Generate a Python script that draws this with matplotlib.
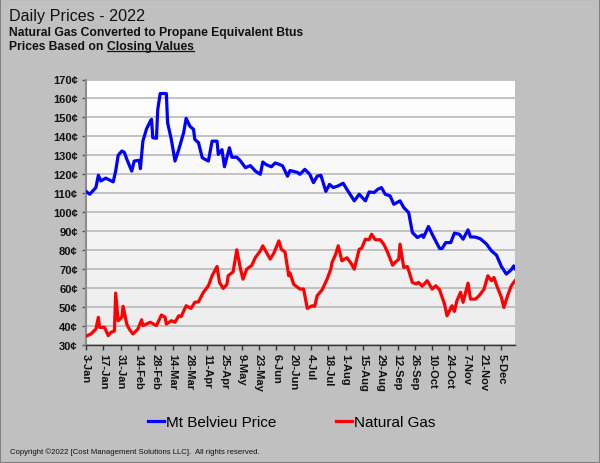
import matplotlib
matplotlib.use("Agg")
import matplotlib.pyplot as plt
from matplotlib.lines import Line2D
from matplotlib.patches import Rectangle
from matplotlib.colors import LinearSegmentedColormap
import numpy as np
import pandas as pd

# ---------------- data ----------------
belvieu_dates = [
    "2022-01-03", "2022-01-06", "2022-01-11", "2022-01-13", "2022-01-15", "2022-01-19",
    "2022-01-22", "2022-01-25", "2022-01-27", "2022-01-29", "2022-02-01", "2022-02-03",
    "2022-02-05", "2022-02-09", "2022-02-11", "2022-02-15", "2022-02-16", "2022-02-18",
    "2022-02-21", "2022-02-24", "2022-02-25", "2022-02-26", "2022-03-01", "2022-03-02",
    "2022-03-04", "2022-03-09", "2022-03-10", "2022-03-13", "2022-03-16", "2022-03-19",
    "2022-03-23", "2022-03-25", "2022-03-28", "2022-03-31", "2022-04-01", "2022-04-04",
    "2022-04-07", "2022-04-09", "2022-04-12", "2022-04-15", "2022-04-19", "2022-04-20",
    "2022-04-23", "2022-04-25", "2022-04-29", "2022-05-01", "2022-05-05", "2022-05-08",
    "2022-05-12", "2022-05-16", "2022-05-20", "2022-05-24", "2022-05-26", "2022-05-29",
    "2022-06-02", "2022-06-05", "2022-06-08", "2022-06-11", "2022-06-15", "2022-06-17",
    "2022-06-23", "2022-06-25", "2022-06-29", "2022-07-03", "2022-07-06", "2022-07-09",
    "2022-07-12", "2022-07-16", "2022-07-19", "2022-07-22", "2022-07-26", "2022-07-30",
    "2022-08-02", "2022-08-08", "2022-08-12", "2022-08-17", "2022-08-20", "2022-08-24",
    "2022-08-27", "2022-08-30", "2022-09-02", "2022-09-06", "2022-09-09", "2022-09-14",
    "2022-09-17", "2022-09-21", "2022-09-24", "2022-09-28", "2022-10-02", "2022-10-03",
    "2022-10-07", "2022-10-10", "2022-10-16", "2022-10-18", "2022-10-21", "2022-10-25",
    "2022-10-28", "2022-11-01", "2022-11-04", "2022-11-08", "2022-11-10", "2022-11-14",
    "2022-11-18", "2022-11-23", "2022-11-27", "2022-12-01", "2022-12-05", "2022-12-09",
    "2022-12-13", "2022-12-15", "2022-12-16",
]
belvieu_values = [
    111, 109.5, 113, 119.5, 116.5, 118,
    117, 116, 121.7, 130, 132.3, 131.6,
    128, 121.7, 127, 127.4, 123, 137.5,
    144, 148, 149, 139.3, 139, 154,
    162.6, 162.6, 147.2, 138.4, 127, 133,
    142, 149.5, 145.4, 143.7, 138.4, 136.7,
    128.8, 128, 127, 137.5, 137.5, 130.5,
    133, 124, 134, 129, 129, 127,
    123.5, 124.6, 121.7, 120, 126.5, 125,
    124, 126, 125.3, 124.5, 119, 122,
    121, 120, 122.6, 120, 115.6, 119,
    119.5, 111, 114.7, 113, 113.9, 115.3,
    112.1, 106, 109.5, 106, 110.7, 110.4,
    112.1, 113, 109.5, 108.6, 104.2, 106,
    102.5, 99.8, 89.3, 86.7, 88, 86.7,
    92.5, 88.4, 80.9, 80.9, 84, 84,
    89, 88.4, 85.8, 90.7, 87, 86.9,
    86, 83.2, 79.6, 77.4, 71.4, 67.4,
    69.7, 71.7, 70.3,
]

gas_dates = [
    "2022-01-03", "2022-01-07", "2022-01-11", "2022-01-13", "2022-01-14", "2022-01-18",
    "2022-01-21", "2022-01-23", "2022-01-26", "2022-01-27", "2022-01-29", "2022-02-01",
    "2022-02-02", "2022-02-05", "2022-02-07", "2022-02-10", "2022-02-14", "2022-02-17",
    "2022-02-18", "2022-02-24", "2022-03-01", "2022-03-05", "2022-03-08", "2022-03-09",
    "2022-03-13", "2022-03-16", "2022-03-19", "2022-03-21", "2022-03-25", "2022-03-29",
    "2022-04-01", "2022-04-04", "2022-04-08", "2022-04-12", "2022-04-15", "2022-04-19",
    "2022-04-21", "2022-04-24", "2022-04-27", "2022-04-28", "2022-05-02", "2022-05-05",
    "2022-05-08", "2022-05-10", "2022-05-13", "2022-05-17", "2022-05-20", "2022-05-24",
    "2022-05-26", "2022-05-29", "2022-06-01", "2022-06-04", "2022-06-08", "2022-06-10",
    "2022-06-13", "2022-06-16", "2022-06-17", "2022-06-20", "2022-06-25", "2022-06-28",
    "2022-07-01", "2022-07-05", "2022-07-07", "2022-07-09", "2022-07-13", "2022-07-17",
    "2022-07-20", "2022-07-21", "2022-07-24", "2022-07-26", "2022-07-29", "2022-08-02",
    "2022-08-05", "2022-08-08", "2022-08-12", "2022-08-14", "2022-08-17", "2022-08-20",
    "2022-08-22", "2022-08-25", "2022-08-29", "2022-09-01", "2022-09-04", "2022-09-08",
    "2022-09-10", "2022-09-13", "2022-09-14", "2022-09-17", "2022-09-20", "2022-09-24",
    "2022-09-27", "2022-09-29", "2022-10-02", "2022-10-06", "2022-10-10", "2022-10-13",
    "2022-10-16", "2022-10-20", "2022-10-22", "2022-10-26", "2022-10-28", "2022-10-30",
    "2022-11-02", "2022-11-04", "2022-11-08", "2022-11-10", "2022-11-14", "2022-11-17",
    "2022-11-21", "2022-11-24", "2022-11-27", "2022-11-29", "2022-12-01", "2022-12-05",
    "2022-12-07", "2022-12-10", "2022-12-13", "2022-12-15", "2022-12-16",
]
gas_values = [
    34.6, 35.8, 38.4, 44.6, 39.3, 39.3,
    34.9, 36.6, 37.4, 57.4, 42.8, 44.6,
    50.4, 41, 38.4, 35.8, 38.4, 43.3,
    40.2, 42, 40.2, 45.8, 44.6, 41,
    42.8, 42, 45.4, 45, 50.7, 49.3,
    52.5, 52.8, 57.8, 61.2, 66.5, 71.4,
    63, 59.8, 62, 66.5, 68.6, 80.2,
    70, 64.7, 70, 71.9, 76.1, 79.6,
    82.3, 78.8, 75.3, 78.5, 84.9, 80.5,
    79, 66.5, 68, 62, 59.5, 59.5,
    49.3, 50.7, 50.4, 56, 59.1, 64.7,
    70, 73.5, 77.9, 82.3, 74.4, 76,
    73.5, 70, 80.5, 81, 85.8, 85.5,
    88.4, 85.5, 85.5, 83, 78.8, 72.1,
    73.5, 75.3, 83.2, 70.9, 71.4, 63,
    62.2, 63, 61, 63.9, 59.5, 61.2,
    59.1, 51.6, 45.4, 50.7, 47.7, 53.3,
    57.8, 52.5, 62.6, 54.2, 54.2, 56,
    59.5, 66.5, 63.9, 65.6, 61.7, 55.1,
    49.8, 56, 61.2, 63, 63.9,
]

series_names = ["Mt Belvieu Price", "Natural Gas"]
series_colors = ["#0000ff", "#ff0000"]
y_ticks = list(range(30, 171, 10))
x_start, x_end = "2022-01-03", "2022-12-16"
tick_step_days = 14

title = "Daily Prices - 2022"
subtitle1 = "Natural Gas Converted to Propane Equivalent Btus"
subtitle2a = "Prices Based on "
subtitle2b = "Closing Values"
copyright_text = "Copyright \u00a92022 [Cost Management Solutions LLC].  All rights reserved."

# ---------------- figure ----------------
plt.rcParams['font.family'] = ['Liberation Sans', 'DejaVu Sans']
W, H = 600, 464
fig = plt.figure(figsize=(W / 100, H / 100), dpi=100, facecolor="#c0c0c0")

# outer border
fig.patches.append(Rectangle((0, 0), 1, 1, transform=fig.transFigure, fill=False,
                             edgecolor="#7f7f7f", lw=1.5, zorder=10))

left, right, top, bottom = 86, 515, 80.5, 346
ax = fig.add_axes([left / W, 1 - bottom / H, (right - left) / W, (bottom - top) / H])
ax.set_facecolor("white")

# background gradient
grad = np.linspace(0, 1, 256).reshape(-1, 1)
cm = LinearSegmentedColormap.from_list("bg", ["#ffffff", "#ececec"])
ax.imshow(grad, extent=[0, 1, 0, 1], transform=ax.transAxes, aspect="auto",
          cmap=cm, zorder=0, origin="upper")

bd = pd.to_datetime(belvieu_dates)
gd = pd.to_datetime(gas_dates)
ax.plot(bd, belvieu_values, color=series_colors[0], lw=2.3, zorder=3, solid_joinstyle="round")
ax.plot(gd, gas_values, color=series_colors[1], lw=2.3, zorder=3, solid_joinstyle="round")

ax.set_ylim(30, 170)
ax.set_xlim(pd.Timestamp(x_start), pd.Timestamp(x_end))
ax.set_yticks(y_ticks)
ax.set_yticklabels([f"{v}\u00a2" for v in y_ticks], fontsize=8, fontweight="bold", color="#111111")

xt = pd.date_range(x_start, x_end, freq=f"{tick_step_days}D")
ax.set_xticks(xt)
ax.set_xticklabels([f"{d.day}-{d.strftime('%b')}" for d in xt], rotation=-90,
                   fontsize=8, fontweight="bold", color="#111111", va="top", ha="center")

ax.grid(axis="y", color="#b9b9b9", lw=1.2, zorder=1)
ax.set_axisbelow(True)
for s in ["top", "right"]:
    ax.spines[s].set_visible(False)
ax.spines["left"].set_color("#8c8c8c")
ax.spines["left"].set_linewidth(1.5)
ax.spines["bottom"].set_color("#333333")
ax.spines["bottom"].set_linewidth(1.0)
ax.tick_params(axis="y", length=3, width=1, color="#555555", pad=3)
ax.tick_params(axis="x", length=3.5, width=1, color="#333333", pad=2)

# titles
fig.text(9 / W, 1 - 20.7 / H, title, fontsize=11.6, va="baseline", ha="left", color="#111111")
fig.text(9 / W, 1 - 36 / H, subtitle1, fontsize=8.7, fontweight="bold", va="baseline",
         ha="left", color="#111111")
t2a = fig.text(9 / W, 1 - 50 / H, subtitle2a, fontsize=8.7, fontweight="bold", va="baseline",
               ha="left", color="#111111")
fig.canvas.draw()
r = fig.canvas.get_renderer()
bb = t2a.get_window_extent(r)
t2b = fig.text(bb.x1 / W, 1 - 50 / H, subtitle2b, fontsize=8.7, fontweight="bold",
               va="baseline", ha="left", color="#111111")
fig.canvas.draw()
bb2 = t2b.get_window_extent(r)
uy = 1 - 52 / H
fig.add_artist(Line2D([bb2.x0 / W, bb2.x1 / W], [uy, uy], transform=fig.transFigure,
                      color="#111111", lw=0.9))

# legend
handles = [Line2D([], [], color=c, lw=2.3) for c in series_colors]
fig.legend(handles, series_names, loc="center", bbox_to_anchor=(0.486, 1 - 423 / H),
           ncol=2, frameon=False, fontsize=11, handlelength=1.05, handletextpad=0.15,
           columnspacing=3.9)

fig.text(10 / W, 1 - 452 / H, copyright_text, fontsize=5.6, va="center", ha="left",
         color="#111111")

fig.savefig("out.png", dpi=100, facecolor=fig.get_facecolor())
